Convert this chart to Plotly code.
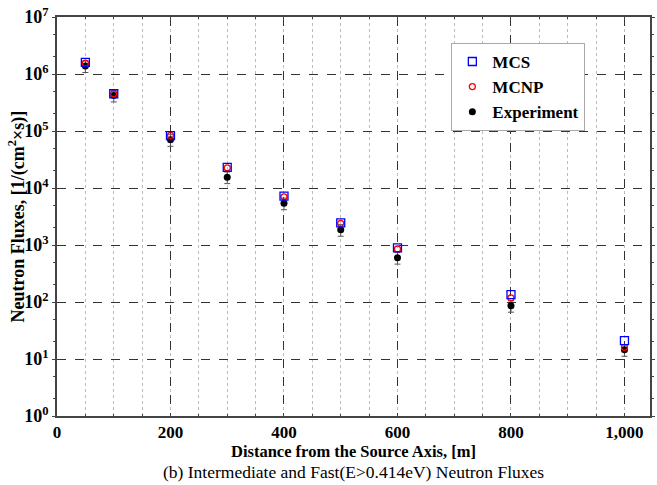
import plotly.graph_objects as go

# Distance from the source axis [m]
distance = [50, 100, 200, 300, 400, 500, 600, 800, 1000]

# Neutron fluxes [1/(cm^2 x s)], E > 0.414 eV
mcs_flux = [1.6e6, 4.5e5, 8.3e4, 2.3e4, 7.2e3, 2.45e3, 890, 135, 21]
mcnp_flux = [1.55e6, 4.5e5, 8.4e4, 2.25e4, 7.0e3, 2.4e3, 850, 118, 16]
exp_flux = [1.38e6, 4.2e5, 7.0e4, 1.55e4, 5.4e3, 1.85e3, 600, 86, 14.5]
exp_err_pct = 23

y_tickvals = [1, 10, 100, 1e3, 1e4, 1e5, 1e6, 1e7]
y_ticktext = ["10<sup>%d</sup>" % k for k in range(8)]
x_tickvals = [0, 200, 400, 600, 800, 1000]
x_ticktext = ["0", "200", "400", "600", "800", "1,000"]

serif = "Liberation Serif"

fig = go.Figure()
fig.add_trace(go.Scatter(
    x=distance, y=exp_flux, mode="markers", name="Experiment",
    marker=dict(symbol="circle", size=7, color="black"),
    error_y=dict(type="percent", value=exp_err_pct, color="#555555",
                 thickness=1, width=3),
))
fig.add_trace(go.Scatter(
    x=distance, y=mcnp_flux, mode="markers", name="MCNP",
    marker=dict(symbol="circle-open", size=6, color="red",
                line=dict(width=1.3, color="red")),
))
fig.add_trace(go.Scatter(
    x=distance, y=mcs_flux, mode="markers", name="MCS",
    marker=dict(symbol="square-open", size=8, color="blue",
                line=dict(width=1.3, color="blue")),
))

fig.update_layout(
    width=657, height=485,
    margin=dict(l=57, r=2, t=17, b=69),
    paper_bgcolor="white", plot_bgcolor="white",
    font=dict(family=serif, color="black", size=17),
    showlegend=True,
    legend=dict(
        x=0.665, y=0.935, xanchor="left", yanchor="top",
        bgcolor="white", bordercolor="#aaaaaa", borderwidth=1,
        font=dict(family=serif, size=17, color="black", weight="bold"),
        traceorder="reversed", itemsizing="trace", tracegroupgap=0,
        itemwidth=30,
    ),
    xaxis=dict(
        range=[0, 1045], tickvals=x_tickvals, ticktext=x_ticktext,
        tickfont=dict(family=serif, size=17, weight="bold"),
        showline=True, linecolor="#444444", linewidth=1.5, mirror="ticks",
        ticks="inside", ticklen=3, tickcolor="#444444",
        showgrid=True, gridcolor="#333333", griddash="dash", gridwidth=1,
        zeroline=False,
        minor=dict(dtick=50, showgrid=True, gridcolor="#bbbbbb",
                   griddash="dot", gridwidth=1, ticks="inside",
                   ticklen=2, tickcolor="#444444"),
    ),
    yaxis=dict(
        type="log", range=[0, 7], tickvals=y_tickvals, ticktext=y_ticktext,
        tickfont=dict(family=serif, size=18, weight="bold"),
        showline=True, linecolor="#444444", linewidth=1.5, mirror="ticks",
        ticks="outside", ticklen=3, tickcolor="#444444",
        showgrid=True, gridcolor="#333333", griddash="dash", gridwidth=1,
        zeroline=False,
        minor=dict(ticks="outside", ticklen=2, tickcolor="#444444",
                   showgrid=False),
    ),
    annotations=[
        dict(text="<b>Distance from the Source Axis, [m]</b>",
             xref="paper", yref="paper", x=0.5, y=0, yshift=-35,
             xanchor="center", yanchor="middle", showarrow=False,
             font=dict(family=serif, size=16.5, color="black")),
        dict(text="<b>Neutron Fluxes, [1/(cm<sup>2</sup>×s)]</b>",
             xref="paper", yref="paper", x=0, y=0.5, xshift=-40,
             xanchor="center", yanchor="middle", textangle=-90,
             showarrow=False,
             font=dict(family=serif, size=18, color="black")),
        dict(text="(b) Intermediate and Fast(E>0.414eV) Neutron Fluxes",
             xref="paper", yref="paper", x=0.5, y=0, yshift=-68,
             xanchor="center", yanchor="bottom", showarrow=False,
             font=dict(family=serif, size=17.5, color="black")),
    ],
)

fig.write_html("out.html")
